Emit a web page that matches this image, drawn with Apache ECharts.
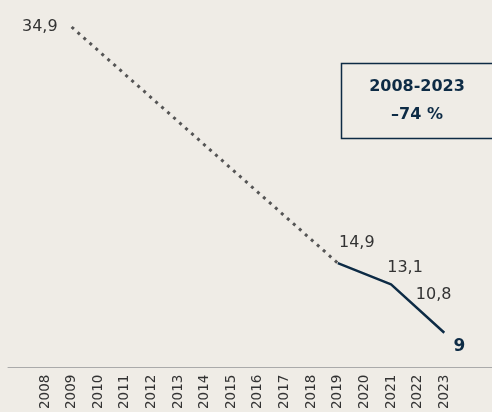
<!DOCTYPE html>
<html>
<head>
<meta charset="utf-8">
<script src="https://cdn.jsdelivr.net/npm/echarts@6/dist/echarts.min.js"></script>
<style>
  html, body { margin: 0; padding: 0; background: #efece6; }
  #chart { width: 492px; height: 412px; }
</style>
</head>
<body>
<div id="chart"></div>
<script>
// years on the axis
var years = ['2008', '2009', '2010', '2011', '2012', '2013', '2014', '2015',
             '2016', '2017', '2018', '2019', '2020', '2021', '2022', '2023'];
// dotted part (estimate)
var trendValues = [null, 34.9, null, null, null, null, null, null,
                   null, null, null, 14.9, null, null, null, null];
// solid part (line runs straight from 2021 to 2023)
var actualValues = [null, null, null, null, null, null, null, null,
                    null, null, null, 14.9, null, 13.1, null, 9];
// value only shown as a label
var labelOnlyValues = [null, null, null, null, null, null, null, null,
                       null, null, null, null, null, null, 10.8, null];
var boxTitle = '2008-2023';
var boxValue = '–74 %';

var navy = '#0d2b45';
var grey = '#333333';
var font = 'DejaVu Sans';

function fmt(v) { return String(v).replace('.', ','); }

// where each value label sits next to its point
var labelOffsets = { 11: [19, -20], 13: [14, -17], 14: [16, -17], 15: [15, 14] };

function withLabels(values) {
    return values.map(function (v, i) {
        if (v == null) return v;
        var item = { value: v, label: { show: true, position: 'inside', offset: labelOffsets[i] } };
        if (i === 15) {
            item.label.fontWeight = 'bold';
            item.label.color = navy;
            item.label.fontSize = 17;
        }
        return item;
    });
}
var trendData = trendValues.map(function (v, i) {
    if (v == null || i === 11) return v;
    return { value: v, label: { show: true, position: 'left', distance: 14 } };
});

var labelStyle = { fontSize: 16, color: grey, fontFamily: font, formatter: function (p) { return fmt(p.value); } };

var chart = echarts.init(document.getElementById('chart'));
chart.setOption({
    backgroundColor: '#efece6',
    animation: false,
    grid: [
        { left: 31.7, right: 34.4, top: 27, bottom: 45 },
        { left: 8, right: 0, top: 27, bottom: 45 }
    ],
    xAxis: [
        {
            type: 'category',
            gridIndex: 0,
            data: years,
            boundaryGap: true,
            axisLine: { show: false },
            axisTick: { show: false },
            axisLabel: { rotate: 90, margin: 10, fontSize: 13.5, color: grey, fontFamily: font }
        },
        {
            type: 'value',
            gridIndex: 1,
            min: 0, max: 1,
            axisLine: { show: true, onZero: false, lineStyle: { color: '#aaaaaa', width: 1 } },
            axisTick: { show: false },
            axisLabel: { show: false },
            splitLine: { show: false }
        }
    ],
    yAxis: [
        { type: 'value', gridIndex: 0, min: 6.3, max: 34.9, show: false },
        { type: 'value', gridIndex: 1, min: 0, max: 1, show: false }
    ],
    series: [
        {
            type: 'line',
            data: trendData,
            connectNulls: true,
            symbol: 'circle',
            symbolSize: 0,
            lineStyle: { color: '#555555', width: 3, type: [3, 5], cap: 'butt' },
            label: labelStyle,
            z: 2
        },
        {
            type: 'line',
            data: withLabels(actualValues),
            connectNulls: true,
            symbol: 'circle',
            symbolSize: 0,
            lineStyle: { color: navy, width: 2.5 },
            label: labelStyle,
            z: 3
        },
        {
            type: 'scatter',
            data: withLabels(labelOnlyValues),
            symbolSize: 0,
            itemStyle: { opacity: 1 },
            label: labelStyle,
            z: 3
        }
    ],
    graphic: [
        {
            type: 'rect',
            left: 339, top: 61,
            shape: { width: 170, height: 75 },
            style: { fill: 'none', stroke: navy, lineWidth: 1.5 }
        },
        {
            type: 'text',
            x: 417, y: 87,
            style: { text: boxTitle, fill: navy, font: 'bold 16px ' + font, textAlign: 'center', textVerticalAlign: 'middle' }
        },
        {
            type: 'text',
            x: 417, y: 115,
            style: { text: boxValue, fill: navy, font: 'bold 16px ' + font, textAlign: 'center', textVerticalAlign: 'middle' }
        }
    ]
});
</script>
</body>
</html>
